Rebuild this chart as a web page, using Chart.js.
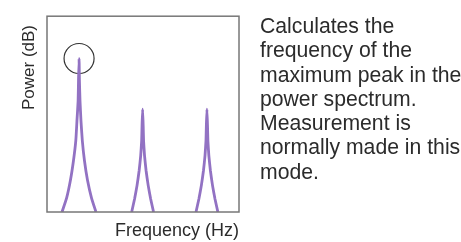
<!DOCTYPE html>
<html lang="en">
<head>
  <meta charset="UTF-8" />
  <title>Peak Frequency Mode</title>
  <script src="https://cdn.jsdelivr.net/npm/chart.js"></script>
  <style>
    * { margin: 0; padding: 0; box-sizing: border-box; }
    html, body {
      width: 461px;
      height: 242px;
      background: #fff;
      overflow: hidden;
      font-family: 'Liberation Sans', Arial, sans-serif;
      color: #2b2b2b;
    }
    .chart-wrap {
      position: absolute;
      left: 0;
      top: 0;
      width: 461px;
      height: 242px;
    }
    /* description text to the right of the plot */
    .note {
      position: absolute;
      left: 260px;
      top: 14px;
      font-size: 21.2px;
      line-height: 24.3px;
      white-space: nowrap;
    }
  </style>
</head>
<body>
  <div class="chart-wrap"><canvas id="spectrum"></canvas></div>
  <div class="note">
    Calculates the<br>
    frequency of the<br>
    maximum peak in the<br>
    power spectrum.<br>
    Measurement is<br>
    normally made in this<br>
    mode.
  </div>

  <script>
    // ---- data (frequency / power in 0..100 units) ----
    const peak1Freq = [7.8, 10.2, 12.2, 13.8, 15.0, 15.6, 16.2, 16.4, 16.7, 16.9, 17.2, 17.7, 18.4, 19.5, 21.1, 23.2, 25.5];
    const peak1Power = [0, 7.1, 16.2, 26.3, 36.4, 46.5, 56.6, 66.7, 78.3, 66.7, 56.6, 46.5, 36.4, 26.3, 16.2, 7.1, 0];

    const peak2Freq = [44.1, 45.6, 46.9, 48.0, 48.8, 49.3, 49.5, 49.8, 50.1, 50.3, 50.8, 51.6, 52.7, 54.0, 55.5];
    const peak3Freq = [77.6, 79.1, 80.4, 81.5, 82.3, 82.8, 83.0, 83.3, 83.6, 83.8, 84.3, 85.1, 86.2, 87.5, 89.0];
    const smallPeakPower = [0, 6.6, 13.6, 21.2, 28.8, 36.4, 44.0, 52.5, 44.0, 36.4, 28.8, 21.2, 13.6, 6.6, 0];

    // the circled maximum
    const markerFreq = [16.7];
    const markerPower = [78.4];

    const xTitle = 'Frequency (Hz)';
    const yTitle = 'Power (dB)';

    const purple = '#9272c3';
    const toPoints = (xs, ys) => xs.map((x, i) => ({ x: x, y: ys[i] }));

    function peakSet(xs, ys) {
      return {
        type: 'line',
        data: toPoints(xs, ys),
        borderColor: purple,
        borderWidth: 2.8,
        pointRadius: 0,
        tension: 0.15,
        fill: false
      };
    }

    // box around the plot area + rotated y title placed near the top
    const frame = {
      id: 'frame',
      afterDraw(chart) {
        const { ctx, chartArea: a } = chart;
        ctx.save();
        ctx.strokeStyle = '#777';
        ctx.lineWidth = 1.5;
        ctx.strokeRect(a.left, a.top, a.right - a.left, a.bottom - a.top);

        ctx.translate(29, 25);
        ctx.rotate(-Math.PI / 2);
        ctx.fillStyle = '#2b2b2b';
        ctx.font = "17px 'Liberation Sans', Arial, sans-serif";
        ctx.textAlign = 'right';
        ctx.textBaseline = 'middle';
        ctx.fillText(yTitle, 0, 0);
        ctx.restore();
      }
    };

    new Chart(document.getElementById('spectrum'), {
      type: 'scatter',
      data: {
        datasets: [
          peakSet(peak1Freq, peak1Power),
          peakSet(peak2Freq, smallPeakPower),
          peakSet(peak3Freq, smallPeakPower),
          {
            type: 'scatter',
            data: toPoints(markerFreq, markerPower),
            pointRadius: 15,
            pointHoverRadius: 15,
            pointBorderWidth: 1.2,
            borderColor: '#333',
            backgroundColor: 'rgba(0,0,0,0)'
          }
        ]
      },
      options: {
        responsive: true,
        maintainAspectRatio: false,
        animation: false,
        layout: { padding: { left: 0, top: 14, right: 222, bottom: 0 } },
        plugins: {
          legend: { display: false },
          tooltip: { enabled: false }
        },
        scales: {
          x: {
            type: 'linear',
            min: 0,
            max: 100,
            ticks: { display: false },
            grid: { display: false },
            border: { display: false },
            title: {
              display: true,
              text: xTitle,
              align: 'end',
              color: '#2b2b2b',
              font: { family: "'Liberation Sans', Arial, sans-serif", size: 18 },
              padding: { top: 1, bottom: 0 }
            },
            afterFit(scale) { scale.height = 30; }
          },
          y: {
            min: 0,
            max: 100,
            ticks: { display: false },
            grid: { display: false },
            border: { display: false },
            afterFit(scale) { scale.width = 47; }
          }
        }
      },
      plugins: [frame]
    });
  </script>
</body>
</html>
